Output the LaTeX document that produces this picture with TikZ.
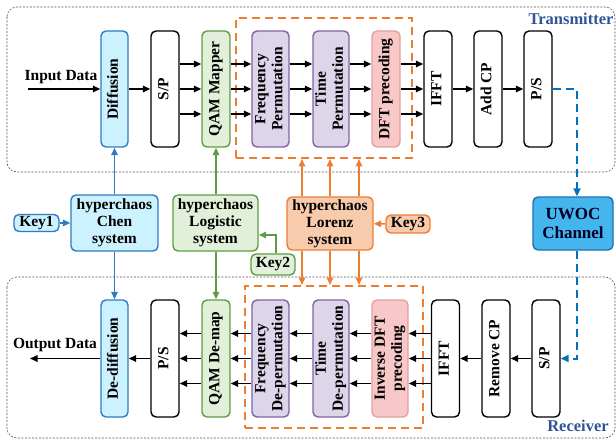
\documentclass[tikz,border=0pt]{standalone}
\usepackage{fontspec}
\usepackage{graphicx}
\setmainfont{Liberation Serif}
\usetikzlibrary{arrows.meta,positioning}
\definecolor{cyanfill}{HTML}{CCF2FF}
\definecolor{chenblue}{HTML}{2E7BC4}
\definecolor{greenfill}{HTML}{E2F0D9}
\definecolor{greenbd}{HTML}{5E9C45}
\definecolor{purplefill}{HTML}{DDD5EA}
\definecolor{purplebd}{HTML}{8064A2}
\definecolor{pinkfill}{HTML}{F8C8C8}
\definecolor{pinkbd}{HTML}{E4A0A0}
\definecolor{peachfill}{HTML}{F8CBAD}
\definecolor{orangebd}{HTML}{ED7D31}
\definecolor{uwocfill}{HTML}{45B5EE}
\definecolor{uwocbd}{HTML}{1F6FB5}
\definecolor{labelblue}{HTML}{2F5597}
\definecolor{linkblue}{HTML}{0070C0}
\definecolor{framegray}{HTML}{555555}

\newcommand{\vtext}[1]{\rotatebox{90}{\begin{tabular}{@{}c@{}}#1\end{tabular}}}

\tikzset{
  blk/.style={draw, rounded corners=5pt, line width=1.4pt, inner sep=0pt,
    minimum height=116pt, fill=white},
  chaos/.style={draw, rounded corners=5pt, line width=1.4pt, inner sep=0pt,
    align=center},
  keybox/.style={draw, rounded corners=5pt, line width=1.4pt, inner sep=0pt},
  arr/.style={line width=1.6pt, -{Triangle[length=7.5pt,width=6.5pt]}},
  frame/.style={draw=framegray, line width=0.6pt, dash pattern=on 2pt off 1.5pt,
    rounded corners=10pt},
  grp/.style={draw=orangebd, line width=2pt, dash pattern=on 8pt off 5pt,
    inner sep=0pt},
  bluedash/.style={linkblue, line width=2pt, dash pattern=on 8pt off 5pt,
    -{Triangle[length=8pt,width=7pt]}}
}

\begin{document}
\begin{tikzpicture}[x=1pt, y=-1pt, font=\bfseries\fontsize{15.5}{17}\selectfont]
  \useasboundingbox (0,0) rectangle (616,441);

  % transmitter and receiver frames
  \draw[frame] (7,7) rectangle (615,172);
  \draw[frame] (7,277) rectangle (615,438);
  \node[labelblue, font=\bfseries\fontsize{16.5}{18}\selectfont] (txlabel) at (571,19) {Transmitter};
  \node[labelblue, font=\bfseries\fontsize{16.5}{18}\selectfont] (rxlabel) at (578,426) {Receiver};

  % permutation groups
  \node[grp, minimum width=176pt, minimum height=140pt] (txgrp) at (324,88) {};
  \node[grp, minimum width=178pt, minimum height=142pt] (rxgrp) at (334,357) {};

  % transmitter chain
  \node[blk, draw=chenblue, fill=cyanfill, minimum width=27pt] (diff) at (114.5,89) {\vtext{Diffusion}};
  \node[blk, minimum width=28pt] (sp) at (165,89) {\vtext{S/P}};
  \node[blk, draw=greenbd, fill=greenfill, minimum width=28pt] (qam) at (216,89) {\vtext{QAM Mapper}};
  \node[blk, draw=purplebd, fill=purplefill, minimum width=37pt] (fperm) at (270.5,89) {\vtext{Frequency\\Permutation}};
  \node[blk, draw=purplebd, fill=purplefill, minimum width=36pt] (tperm) at (331,89) {\vtext{Time\\Permutation}};
  \node[blk, draw=pinkbd, fill=pinkfill, minimum width=28pt] (dft) at (386,89) {\vtext{DFT precoding}};
  \node[blk, minimum width=28pt] (ifft) at (438,89) {\vtext{IFFT}};
  \node[blk, minimum width=28pt] (addcp) at (488,89) {\vtext{Add CP}};
  \node[blk, minimum width=28pt] (ps) at (538,89) {\vtext{P/S}};

  % receiver chain
  \node[blk, draw=chenblue, fill=cyanfill, minimum width=27pt, minimum height=117pt] (ddiff) at (114.5,358.5) {\vtext{De-diffusion}};
  \node[blk, minimum width=28pt, minimum height=117pt] (rps) at (165,358.5) {\vtext{P/S}};
  \node[blk, draw=greenbd, fill=greenfill, minimum width=28pt, minimum height=117pt] (qamd) at (216,358.5) {\vtext{QAM De-map}};
  \node[blk, draw=purplebd, fill=purplefill, minimum width=37pt, minimum height=117pt] (fdep) at (270.5,358.5) {\vtext{Frequency\\De-permutation}};
  \node[blk, draw=purplebd, fill=purplefill, minimum width=36pt, minimum height=117pt] (tdep) at (331,358.5) {\vtext{Time\\De-permutation}};
  \node[blk, draw=pinkbd, fill=pinkfill, minimum width=36pt, minimum height=117pt] (idft) at (390,358.5) {\vtext{Inverse DFT\\precoding}};
  \node[blk, minimum width=28pt, minimum height=117pt] (rifft) at (445.5,358.5) {\vtext{IFFT}};
  \node[blk, minimum width=28pt, minimum height=117pt] (rcp) at (496,358.5) {\vtext{Remove CP}};
  \node[blk, minimum width=28pt, minimum height=117pt] (rsp) at (546,358.5) {\vtext{S/P}};

  % chaotic systems and keys
  \node[chaos, draw=chenblue, fill=cyanfill, minimum width=87pt, minimum height=56pt] (chen) at (114.5,223) {hyperchaos\\Chen\\system};
  \node[chaos, draw=greenbd, fill=greenfill, minimum width=85pt, minimum height=56pt] (logistic) at (215.5,223) {hyperchaos\\Logistic\\system};
  \node[chaos, draw=orangebd, fill=peachfill, minimum width=86pt, minimum height=53pt] (lorenz) at (330,223.5) {hyperchaos\\Lorenz\\system};
  \node[keybox, draw=chenblue, fill=cyanfill, minimum width=45pt, minimum height=17pt] (key1) at (36.5,223) {Key1};
  \node[keybox, draw=greenbd, fill=greenfill, minimum width=44pt, minimum height=21pt] (key2) at (273,264.5) {Key2};
  \node[keybox, draw=orangebd, fill=peachfill, minimum width=44pt, minimum height=18pt] (key3) at (408,224) {Key3};
  \node[chaos, draw=uwocbd, fill=uwocfill, text=black!85!blue, minimum width=80pt, minimum height=53pt,
    font=\bfseries\fontsize{17}{19}\selectfont] (uwoc) at (573,223.5) {UWOC\\Channel};

  % data flow
  \coordinate (indata) at (28,89);
  \coordinate (outdata) at (30,358.5);
  \node (inlabel) at (61,77) {Input Data};
  \node (outlabel) at (55,345) {Output Data};
  \draw[arr] (indata) -- (diff.west);
  \draw[arr] (diff.east) -- (sp.west);
  \foreach \a/\b in {sp/qam,qam/fperm,fperm/tperm,tperm/dft,dft/ifft}
    \foreach \dy in {25,0,-25}
      \draw[arr] ([yshift=\dy pt]\a.east) -- ([yshift=\dy pt]\b.west);
  \draw[arr] (ifft.east) -- (addcp.west);
  \draw[arr] (addcp.east) -- (ps.west);

  \draw[arr] (rsp.west) -- (rcp.east);
  \draw[arr] (rcp.west) -- (rifft.east);
  \foreach \a/\b in {rifft/idft,idft/tdep,tdep/fdep,fdep/qamd,qamd/rps}
    \foreach \dy in {25,0,-25}
      \draw[arr] ([yshift=\dy pt]\a.west) -- ([yshift=\dy pt]\b.east);
  \draw[arr] (rps.west) -- (ddiff.east);
  \draw[arr] (ddiff.west) -- (outdata);

  % channel
  \draw[bluedash] (ps.east) -| ([xshift=4pt]uwoc.north);
  \draw[bluedash] ([xshift=4pt]uwoc.south) |- (rsp.east);

  % keys into chaotic systems
  \draw[arr, chenblue] (key1) -- (chen);
  \draw[arr, greenbd] ([xshift=3pt]key2.north) |- ([yshift=-12pt]logistic.east);
  \draw[arr, orangebd] (key3) -- (lorenz);

  % chaotic sequences
  \draw[arr, chenblue] (chen.north) -- (diff.south);
  \draw[arr, chenblue] (chen.south) -- (ddiff.north);
  \draw[arr, greenbd] (qam.south |- logistic.north) -- (qam.south);
  \draw[arr, greenbd] (qamd.north |- logistic.south) -- (qamd.north);
  \foreach \dx in {-28,0,29} {
    \draw[arr, orangebd] ([xshift=\dx pt]lorenz.north) -- ([xshift=\dx pt]lorenz.north |- txgrp.south);
    \draw[arr, orangebd] ([xshift=\dx pt]lorenz.south) -- ([xshift=\dx pt]lorenz.south |- rxgrp.north);
  }
\end{tikzpicture}
\end{document}
